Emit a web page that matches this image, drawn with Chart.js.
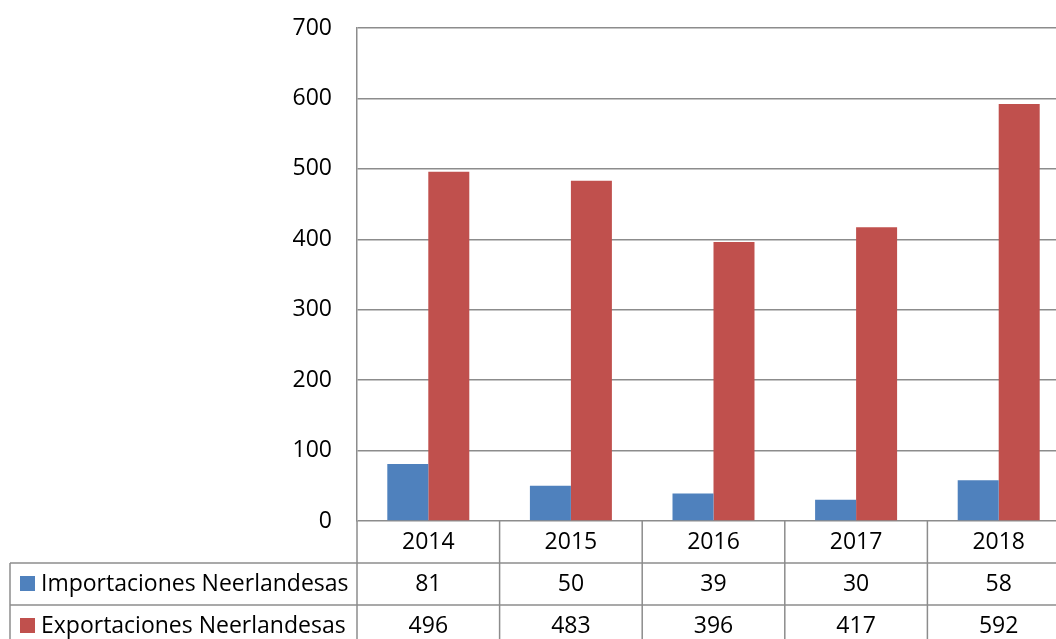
<!DOCTYPE html>
<html>
<head>
<meta charset="utf-8">
<script src="https://cdn.jsdelivr.net/npm/chart.js@4"></script>
<style>
    html, body { margin: 0; padding: 0; background: #fff; }
    #wrap { width: 1056px; height: 639px; overflow: hidden; }
    canvas { display: block; }
</style>
</head>
<body>
<div id="wrap">
    <canvas id="myChart" width="1070" height="639"></canvas>
</div>
<script>
// Chart data
const years = ['2014', '2015', '2016', '2017', '2018'];
const importaciones = [81, 50, 39, 30, 58];
const exportaciones = [496, 483, 396, 417, 592];
const seriesNames = ['Importaciones Neerlandesas', 'Exportaciones Neerlandesas'];
const yTicks = [0, 100, 200, 300, 400, 500, 600, 700];

const gridColor = '#8c8c8c';
const fontFamily = '"Open Sans", Lato, sans-serif';
const fontSize = 23;

// Plugin that draws the Excel-style data table under the plot
const dataTable = {
    id: 'dataTable',
    afterDraw(chart) {
        const ctx = chart.ctx;
        const area = chart.chartArea;
        const xScale = chart.scales.x;
        const rowH = 42;
        const tableLeft = 10;
        const catW = (area.right - area.left) / years.length;
        const bottom = chart.height;

        ctx.save();
        ctx.strokeStyle = gridColor;
        ctx.lineWidth = 1.5;

        // horizontal lines
        for (let r = 1; r <= 2; r++) {
            const y = area.bottom + rowH * r;
            ctx.beginPath();
            ctx.moveTo(tableLeft, y);
            ctx.lineTo(area.right, y);
            ctx.stroke();
        }
        // left border of the legend column
        ctx.beginPath();
        ctx.moveTo(tableLeft, area.bottom + rowH);
        ctx.lineTo(tableLeft, bottom);
        ctx.stroke();
        // vertical lines between categories
        for (let i = 0; i <= years.length; i++) {
            const x = area.left + catW * i;
            ctx.beginPath();
            ctx.moveTo(x, area.bottom);
            ctx.lineTo(x, bottom);
            ctx.stroke();
        }

        ctx.fillStyle = '#000';
        ctx.font = fontSize + 'px ' + fontFamily;
        ctx.textBaseline = 'middle';
        ctx.textAlign = 'center';

        // category labels and values
        const rows = [years, importaciones, exportaciones];
        rows.forEach((row, r) => {
            const y = area.bottom + rowH * r + rowH / 2;
            row.forEach((v, i) => {
                ctx.fillText(String(v), xScale.getPixelForValue(i), y);
            });
        });

        // legend keys and series names
        ctx.textAlign = 'left';
        chart.data.datasets.forEach((ds, r) => {
            const y = area.bottom + rowH * (r + 1) + rowH / 2;
            ctx.fillStyle = ds.backgroundColor;
            ctx.fillRect(20, y - 8, 15, 15);
            ctx.fillStyle = '#000';
            ctx.fillText(seriesNames[r], 41, y);
        });
        ctx.restore();
    }
};

const ctx = document.getElementById('myChart').getContext('2d');
const myChart = new Chart(ctx, {
    type: 'bar',
    data: {
        labels: years,
        datasets: [{
            label: seriesNames[0],
            data: importaciones,
            backgroundColor: '#4f81bd'
        }, {
            label: seriesNames[1],
            data: exportaciones,
            backgroundColor: '#c0504d'
        }]
    },
    options: {
        responsive: false,
        animation: false,
        layout: {
            padding: { top: 28, left: 0, right: 0, bottom: 0 }
        },
        datasets: {
            bar: {
                categoryPercentage: 0.575,
                barPercentage: 1
            }
        },
        plugins: {
            legend: { display: false },
            tooltip: { enabled: false }
        },
        scales: {
            x: {
                grid: { display: false },
                border: { display: false },
                ticks: { display: false },
                afterFit: function(scale) {
                    scale.height = 118;
                }
            },
            y: {
                min: 0,
                max: 700,
                afterBuildTicks: function(scale) {
                    scale.ticks = yTicks.map(v => ({ value: v }));
                },
                grid: {
                    color: gridColor,
                    lineWidth: 1.5,
                    drawTicks: true,
                    tickLength: 25,
                    tickColor: 'rgba(0,0,0,0)'
                },
                border: { color: gridColor, width: 1.5 },
                ticks: {
                    padding: 0,
                    color: '#000',
                    font: { family: fontFamily, size: fontSize }
                },
                afterFit: function(scale) {
                    scale.width = 357;
                }
            }
        }
    },
    plugins: [dataTable]
});
</script>
</body>
</html>
